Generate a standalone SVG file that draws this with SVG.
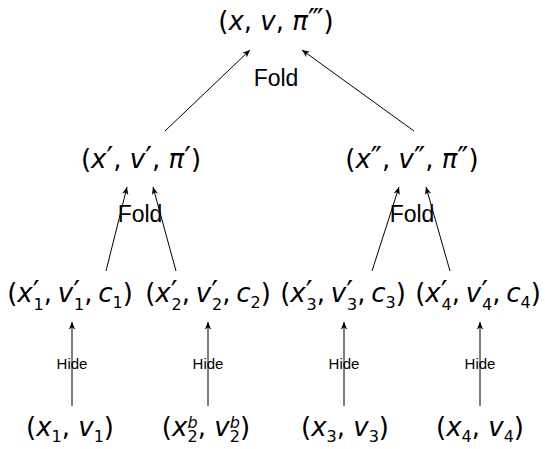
<svg xmlns="http://www.w3.org/2000/svg" width="545" height="449" viewBox="0 0 545 449">
<style>
text{font-family:"Liberation Sans","DejaVu Sans",sans-serif;fill:#000}
.m{font-family:"DejaVu Sans",sans-serif;font-size:26px;text-anchor:middle}
.t{word-spacing:-2.5px}
.i{font-style:italic}
.s{font-size:16px}
.p{font-size:30px}
.lbl{font-size:23px;text-anchor:middle}
.hide{font-size:15px;text-anchor:middle}
.e{stroke:#000;stroke-width:1;fill:none;marker-end:url(#ah)}
</style>
<defs>
<marker id="ah" viewBox="-8 -4 9 8" refX="0" refY="0" markerWidth="9" markerHeight="8" markerUnits="userSpaceOnUse" orient="auto">
<path d="M0,0 L-7.5,-3.2 L-5.5,0 L-7.5,3.2 Z" fill="#000"/>
</marker>
</defs>
<rect width="545" height="449" fill="#fff"/>
<g id="connectors">
<line class="e" x1="165" y1="131" x2="250" y2="50"/>
<line class="e" x1="414" y1="131" x2="302" y2="50"/>
<line class="e" x1="106" y1="271" x2="127" y2="187"/>
<line class="e" x1="176" y1="271" x2="153" y2="187"/>
<line class="e" x1="372" y1="271" x2="399" y2="187"/>
<line class="e" x1="450" y1="271" x2="426" y2="187"/>
<line class="e" x1="72" y1="406" x2="72" y2="322"/>
<line class="e" x1="208" y1="406" x2="208" y2="322"/>
<line class="e" x1="344" y1="406" x2="344" y2="322"/>
<line class="e" x1="480" y1="406" x2="480" y2="322"/>
<text class="lbl" x="276" y="86">Fold</text>
<text class="lbl" x="140" y="222">Fold</text>
<text class="lbl" x="412" y="222">Fold</text>
<text class="hide" x="72" y="369">Hide</text>
<text class="hide" x="208" y="369">Hide</text>
<text class="hide" x="344" y="369">Hide</text>
<text class="hide" x="480" y="369">Hide</text>
</g>
<g id="n-top">
<text class="m" x="276" y="30">(<tspan class="i">x</tspan>, <tspan class="i">v</tspan>, <tspan class="i">π</tspan><tspan class="p">‴</tspan>)</text>
</g>
<g id="n-l2a">
<text class="m" x="141" y="168">(<tspan class="i">x</tspan><tspan class="p">′</tspan>, <tspan class="i">v</tspan><tspan class="p">′</tspan>, <tspan class="i">π</tspan><tspan class="p">′</tspan>)</text>
</g>
<g id="n-l2b">
<text class="m" x="412" y="168">(<tspan class="i">x</tspan><tspan class="p">″</tspan>, <tspan class="i">v</tspan><tspan class="p">″</tspan>, <tspan class="i">π</tspan><tspan class="p">″</tspan>)</text>
</g>
<g id="n-c1">
<text class="m t" x="70" y="302">(<tspan class="i">x</tspan><tspan class="p">′</tspan><tspan class="s" dx="-6" dy="8">1</tspan><tspan dy="-8">, </tspan><tspan class="i">v</tspan><tspan class="p">′</tspan><tspan class="s" dx="-6" dy="8">1</tspan><tspan dy="-8">, </tspan><tspan class="i">c</tspan><tspan class="s" dy="6">1</tspan><tspan dy="-6">)</tspan></text>
</g>
<g id="n-c2">
<text class="m t" x="208" y="302">(<tspan class="i">x</tspan><tspan class="p">′</tspan><tspan class="s" dx="-6" dy="8">2</tspan><tspan dy="-8">, </tspan><tspan class="i">v</tspan><tspan class="p">′</tspan><tspan class="s" dx="-6" dy="8">2</tspan><tspan dy="-8">, </tspan><tspan class="i">c</tspan><tspan class="s" dy="6">2</tspan><tspan dy="-6">)</tspan></text>
</g>
<g id="n-c3">
<text class="m t" x="343" y="302">(<tspan class="i">x</tspan><tspan class="p">′</tspan><tspan class="s" dx="-6" dy="8">3</tspan><tspan dy="-8">, </tspan><tspan class="i">v</tspan><tspan class="p">′</tspan><tspan class="s" dx="-6" dy="8">3</tspan><tspan dy="-8">, </tspan><tspan class="i">c</tspan><tspan class="s" dy="6">3</tspan><tspan dy="-6">)</tspan></text>
</g>
<g id="n-c4">
<text class="m t" x="478" y="302">(<tspan class="i">x</tspan><tspan class="p">′</tspan><tspan class="s" dx="-6" dy="8">4</tspan><tspan dy="-8">, </tspan><tspan class="i">v</tspan><tspan class="p">′</tspan><tspan class="s" dx="-6" dy="8">4</tspan><tspan dy="-8">, </tspan><tspan class="i">c</tspan><tspan class="s" dy="6">4</tspan><tspan dy="-6">)</tspan></text>
</g>
<g id="n-b1">
<text class="m" x="70" y="436">(<tspan class="i">x</tspan><tspan class="s" dy="6">1</tspan><tspan dy="-6">, </tspan><tspan class="i">v</tspan><tspan class="s" dy="6">1</tspan><tspan dy="-6">)</tspan></text>
</g>
<g id="n-b2">
<text class="m" x="206" y="436">(<tspan class="i">x</tspan><tspan class="s i" dy="-8">b</tspan><tspan class="s" dx="-10" dy="14">2</tspan><tspan dy="-6">, </tspan><tspan class="i">v</tspan><tspan class="s i" dy="-8">b</tspan><tspan class="s" dx="-10" dy="14">2</tspan><tspan dy="-6">)</tspan></text>
</g>
<g id="n-b3">
<text class="m" x="345" y="436">(<tspan class="i">x</tspan><tspan class="s" dy="6">3</tspan><tspan dy="-6">, </tspan><tspan class="i">v</tspan><tspan class="s" dy="6">3</tspan><tspan dy="-6">)</tspan></text>
</g>
<g id="n-b4">
<text class="m" x="480" y="436">(<tspan class="i">x</tspan><tspan class="s" dy="6">4</tspan><tspan dy="-6">, </tspan><tspan class="i">v</tspan><tspan class="s" dy="6">4</tspan><tspan dy="-6">)</tspan></text>
</g>
</svg>
